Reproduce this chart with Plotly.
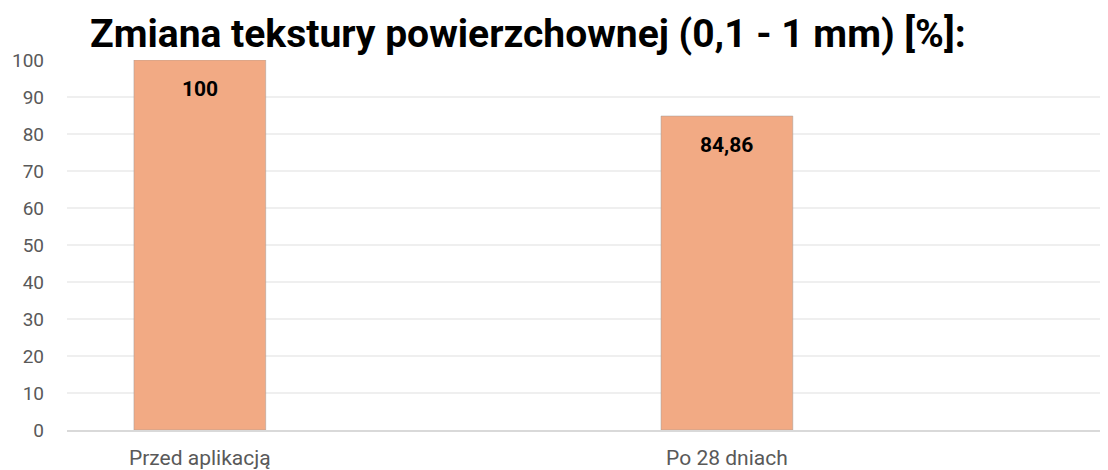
import plotly.graph_objects as go

categories = ["Przed aplikacją", "Po 28 dniach"]
values = [100, 84.86]
value_labels = ["100", "84,86"]
title_text = "Zmiana tekstury powierzchownej (0,1 - 1 mm) [%]:"

x_pos = list(range(len(categories)))

fig = go.Figure()
fig.add_trace(go.Bar(
    x=x_pos, y=values, width=0.25,
    marker=dict(color="#F2AA84", line=dict(color="rgba(150,150,150,0.45)", width=1)),
    hoverinfo="skip",
))

for xp, v, lab in zip(x_pos, values, value_labels):
    fig.add_annotation(x=xp, y=v, text=f"<b>{lab}</b>", showarrow=False,
                       yshift=-29, font=dict(family="Roboto", size=21, color="#000000"))

fig.update_layout(
    width=1100, height=462,
    margin=dict(l=59, r=0, t=52, b=40),
    paper_bgcolor="white", plot_bgcolor="white",
    showlegend=False,
    title=dict(text=f"<b>{title_text}</b>", x=82/1100, xanchor="left", y=1 - 25/462, yanchor="middle",
               font=dict(family="Roboto", size=39, color="#000000")),
    xaxis=dict(range=[-0.252, 1.723], tickmode="array", tickvals=x_pos, ticktext=categories,
               showgrid=False, zeroline=False, showline=True, linecolor="#D9D9D9", linewidth=2,
               ticks="", ticklabelstandoff=8, tickfont=dict(family="Roboto", size=21, color="#595959")),
    yaxis=dict(range=[0, 100], dtick=10, showgrid=True, gridcolor="#EFEFEF", gridwidth=1.5,
               zeroline=False, showline=False, ticks="", ticklabelstandoff=22,
               tickfont=dict(family="Roboto", size=19, color="#595959")),
)

fig.write_html("out.html")
